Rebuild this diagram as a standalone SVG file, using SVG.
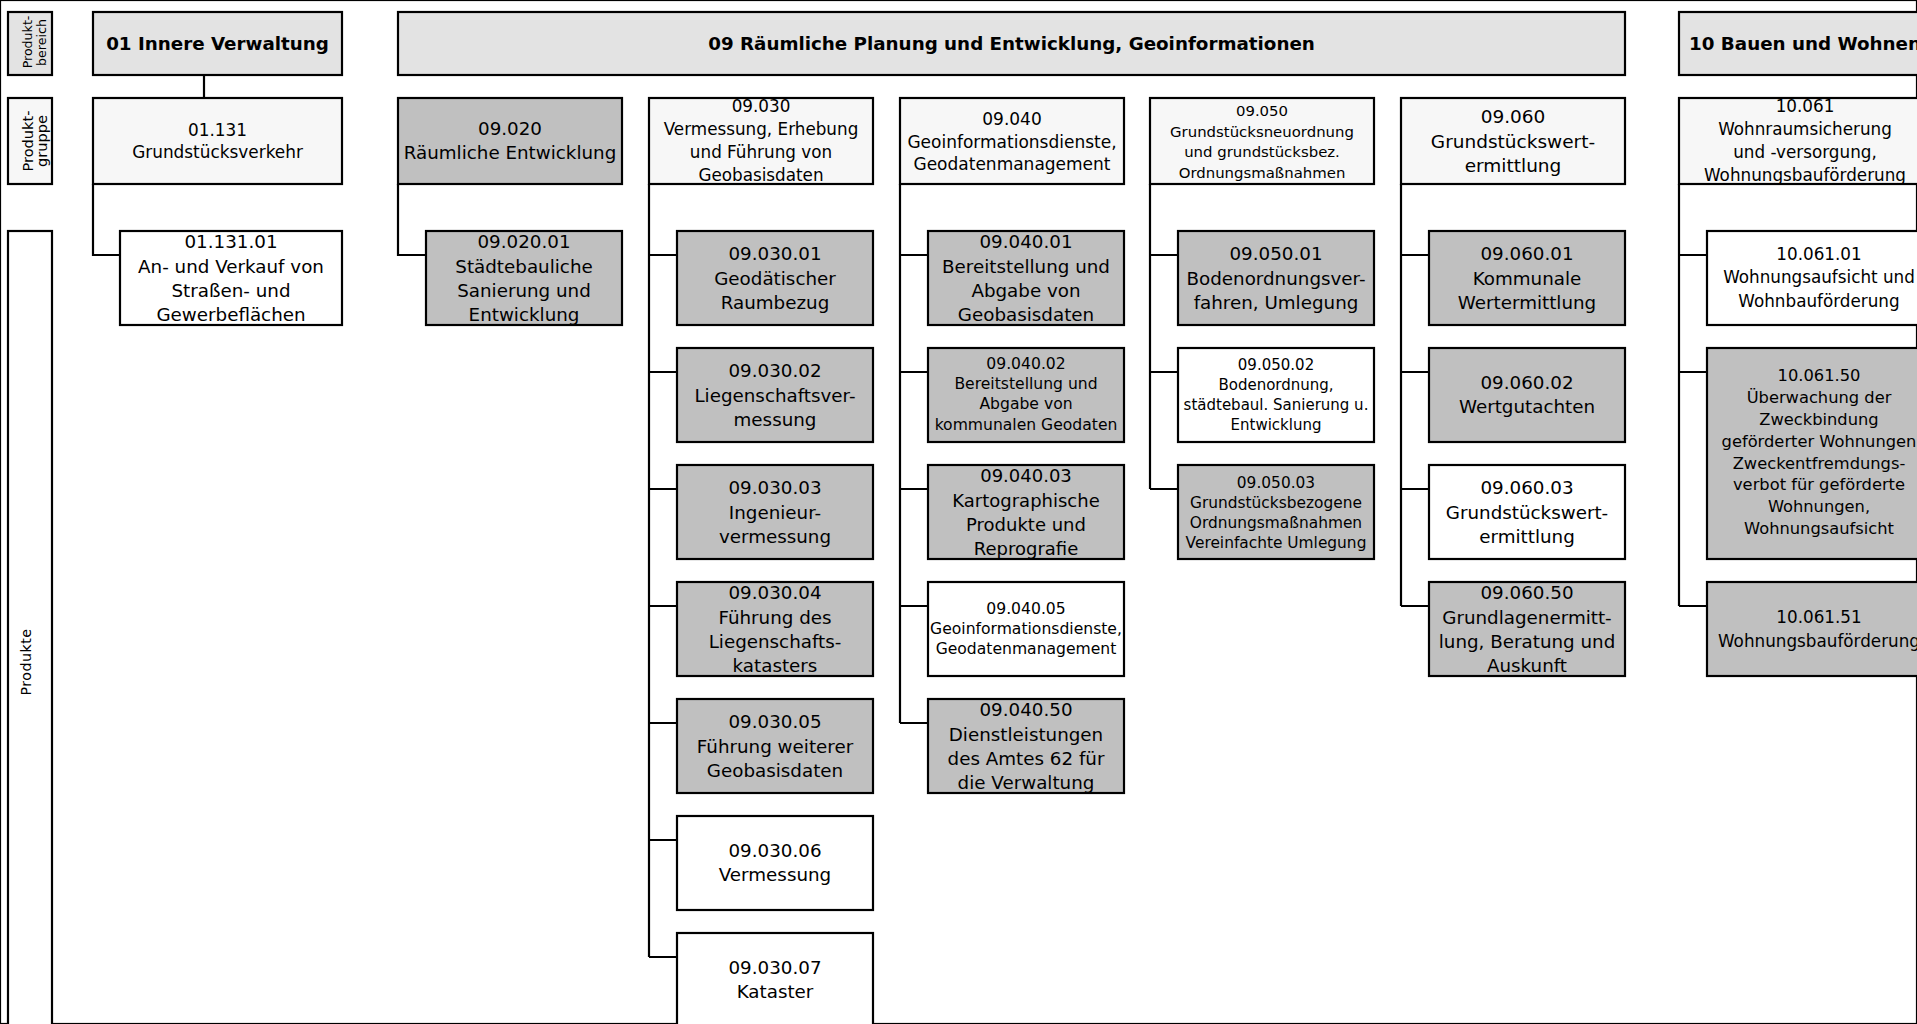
<svg xmlns="http://www.w3.org/2000/svg" width="1917" height="1024" viewBox="0 0 1917 1024" font-size="18.3">
<style>
rect{stroke:#000;stroke-width:2.2}
.hdr{fill:#e3e3e3}
.grp{fill:#f7f7f7}
.g{fill:#c0c0c0}
.w{fill:#fff}
text{font-family:"DejaVu Sans",Verdana,sans-serif;fill:#000;text-anchor:middle}
.b{font-weight:bold}
.conn path{fill:none;stroke:#000;stroke-width:2.2}
</style>
<rect x="0" y="0" width="1917" height="1024" fill="#fff" stroke="none"/>

<g id="label-produktbereich">
<rect class="hdr" x="8" y="12" width="44" height="63"/>
<text font-size="12.6" transform="translate(32,42) rotate(-90)">Produkt-</text>
<text font-size="12.6" transform="translate(45.5,42.5) rotate(-90)">bereich</text>
</g>
<g id="label-produktgruppe">
<rect class="grp" x="8" y="98" width="44" height="86"/>
<text font-size="14.6" transform="translate(32.5,141) rotate(-90)">Produkt-</text>
<text font-size="14.6" transform="translate(47,141) rotate(-90)">gruppe</text>
</g>
<g id="label-produkte">
<rect class="w" x="8" y="231" width="44" height="820"/>
<text font-size="14.2" letter-spacing="0.5" transform="translate(31,662) rotate(-90)">Produkte</text>
</g>

<g class="conn" id="connectors">
<path d="M204,75V98"/>
<path d="M93,184V255H120"/>
<path d="M398,184V255H426"/>
<path d="M649,184V957M649,255H677M649,372H677M649,489H677M649,606H677M649,723H677M649,840H677M649,957H677"/>
<path d="M900,184V723M900,255H928M900,372H928M900,489H928M900,606H928M900,723H928"/>
<path d="M1150,184V489M1150,255H1178M1150,372H1178M1150,489H1178"/>
<path d="M1401,184V606M1401,255H1429M1401,372H1429M1401,489H1429M1401,606H1429"/>
<path d="M1679,184V606M1679,255H1707M1679,372H1707M1679,606H1707"/>
</g>

<g id="h01"><rect class="hdr" x="93" y="12" width="249" height="63"/>
<text class="b" x="217.5" y="50">01 Innere Verwaltung</text></g>
<g id="h09"><rect class="hdr" x="398" y="12" width="1227" height="63"/>
<text class="b" x="1011.5" y="50">09 Räumliche Planung und Entwicklung, Geoinformationen</text></g>
<g id="h10"><rect class="hdr" x="1679" y="12" width="260" height="63"/>
<text class="b" x="1805" y="50">10 Bauen und Wohnen</text></g>

<g id="g01131"><rect class="grp" x="93" y="98" width="249" height="86"/>
<text font-size="16.9"><tspan x="217.5" y="136">01.131</tspan><tspan x="217.5" y="158">Grundstücksverkehr</tspan></text></g>
<g id="g09020"><rect class="g" x="398" y="98" width="224" height="86"/>
<text><tspan x="510" y="135">09.020</tspan><tspan x="510" y="159">Räumliche Entwicklung</tspan></text></g>
<g id="g09030"><rect class="grp" x="649" y="98" width="224" height="86"/>
<text font-size="16.8"><tspan x="761" y="112">09.030</tspan><tspan x="761" y="135">Vermessung, Erhebung</tspan><tspan x="761" y="158">und Führung von</tspan><tspan x="761" y="181">Geobasisdaten</tspan></text></g>
<g id="g09040"><rect class="grp" x="900" y="98" width="224" height="86"/>
<text font-size="17"><tspan x="1012" y="125">09.040</tspan><tspan x="1012" y="147.5">Geoinformationsdienste,</tspan><tspan x="1012" y="170">Geodatenmanagement</tspan></text></g>
<g id="g09050"><rect class="grp" x="1150" y="98" width="224" height="86"/>
<text font-size="14.9"><tspan x="1262" y="116">09.050</tspan><tspan x="1262" y="136.5">Grundstücksneuordnung</tspan><tspan x="1262" y="157">und grundstücksbez.</tspan><tspan x="1262" y="177.5">Ordnungsmaßnahmen</tspan></text></g>
<g id="g09060"><rect class="grp" x="1401" y="98" width="224" height="86"/>
<text font-size="18.5"><tspan x="1513" y="123">09.060</tspan><tspan x="1513" y="148">Grundstückswert-</tspan><tspan x="1513" y="172">ermittlung</tspan></text></g>
<g id="g10061"><rect class="grp" x="1679" y="98" width="260" height="86"/>
<text font-size="16.8"><tspan x="1805" y="112">10.061</tspan><tspan x="1805" y="135">Wohnraumsicherung</tspan><tspan x="1805" y="158">und -versorgung,</tspan><tspan x="1805" y="181">Wohnungsbauförderung</tspan></text></g>

<g id="p0113101"><rect class="w" x="120" y="231" width="222" height="94"/>
<text><tspan x="231" y="248">01.131.01</tspan><tspan x="231" y="272.5">An- und Verkauf von</tspan><tspan x="231" y="297">Straßen- und</tspan><tspan x="231" y="321">Gewerbeflächen</tspan></text></g>
<g id="p0902001"><rect class="g" x="426" y="231" width="196" height="94"/>
<text><tspan x="524" y="248">09.020.01</tspan><tspan x="524" y="272.5">Städtebauliche</tspan><tspan x="524" y="297">Sanierung und</tspan><tspan x="524" y="321">Entwicklung</tspan></text></g>

<g id="p0903001"><rect class="g" x="677" y="231" width="196" height="94"/>
<text><tspan x="775" y="260">09.030.01</tspan><tspan x="775" y="284.5">Geodätischer</tspan><tspan x="775" y="309">Raumbezug</tspan></text></g>
<g id="p0903002"><rect class="g" x="677" y="348" width="196" height="94"/>
<text><tspan x="775" y="377">09.030.02</tspan><tspan x="775" y="401.5">Liegenschaftsver-</tspan><tspan x="775" y="426">messung</tspan></text></g>
<g id="p0903003"><rect class="g" x="677" y="465" width="196" height="94"/>
<text><tspan x="775" y="494">09.030.03</tspan><tspan x="775" y="518.5">Ingenieur-</tspan><tspan x="775" y="543">vermessung</tspan></text></g>
<g id="p0903004"><rect class="g" x="677" y="582" width="196" height="94"/>
<text><tspan x="775" y="599">09.030.04</tspan><tspan x="775" y="623.5">Führung des</tspan><tspan x="775" y="648">Liegenschafts-</tspan><tspan x="775" y="672">katasters</tspan></text></g>
<g id="p0903005"><rect class="g" x="677" y="699" width="196" height="94"/>
<text><tspan x="775" y="728">09.030.05</tspan><tspan x="775" y="752.5">Führung weiterer</tspan><tspan x="775" y="777">Geobasisdaten</tspan></text></g>
<g id="p0903006"><rect class="w" x="677" y="816" width="196" height="94"/>
<text><tspan x="775" y="857">09.030.06</tspan><tspan x="775" y="881">Vermessung</tspan></text></g>
<g id="p0903007"><rect class="w" x="677" y="933" width="196" height="94"/>
<text><tspan x="775" y="974">09.030.07</tspan><tspan x="775" y="998">Kataster</tspan></text></g>

<g id="p0904001"><rect class="g" x="928" y="231" width="196" height="94"/>
<text><tspan x="1026" y="248">09.040.01</tspan><tspan x="1026" y="272.5">Bereitstellung und</tspan><tspan x="1026" y="297">Abgabe von</tspan><tspan x="1026" y="321">Geobasisdaten</tspan></text></g>
<g id="p0904002"><rect class="g" x="928" y="348" width="196" height="94"/>
<text font-size="15.6"><tspan x="1026" y="369">09.040.02</tspan><tspan x="1026" y="389">Bereitstellung und</tspan><tspan x="1026" y="409">Abgabe von</tspan><tspan x="1026" y="430">kommunalen Geodaten</tspan></text></g>
<g id="p0904003"><rect class="g" x="928" y="465" width="196" height="94"/>
<text font-size="18"><tspan x="1026" y="482">09.040.03</tspan><tspan x="1026" y="506.5">Kartographische</tspan><tspan x="1026" y="531">Produkte und</tspan><tspan x="1026" y="555">Reprografie</tspan></text></g>
<g id="p0904005"><rect class="w" x="928" y="582" width="196" height="94"/>
<text font-size="15.6"><tspan x="1026" y="614">09.040.05</tspan><tspan x="1026" y="634">Geoinformationsdienste,</tspan><tspan x="1026" y="654">Geodatenmanagement</tspan></text></g>
<g id="p0904050"><rect class="g" x="928" y="699" width="196" height="94"/>
<text><tspan x="1026" y="716">09.040.50</tspan><tspan x="1026" y="740.5">Dienstleistungen</tspan><tspan x="1026" y="765">des Amtes 62 für</tspan><tspan x="1026" y="789">die Verwaltung</tspan></text></g>

<g id="p0905001"><rect class="g" x="1178" y="231" width="196" height="94"/>
<text><tspan x="1276" y="260">09.050.01</tspan><tspan x="1276" y="284.5">Bodenordnungsver-</tspan><tspan x="1276" y="309">fahren, Umlegung</tspan></text></g>
<g id="p0905002"><rect class="w" x="1178" y="348" width="196" height="94"/>
<text font-size="15"><tspan x="1276" y="370">09.050.02</tspan><tspan x="1276" y="390">Bodenordnung,</tspan><tspan x="1276" y="410">städtebaul. Sanierung u.</tspan><tspan x="1276" y="430">Entwicklung</tspan></text></g>
<g id="p0905003"><rect class="g" x="1178" y="465" width="196" height="94"/>
<text font-size="15.4"><tspan x="1276" y="488">09.050.03</tspan><tspan x="1276" y="508">Grundstücksbezogene</tspan><tspan x="1276" y="528">Ordnungsmaßnahmen</tspan><tspan x="1276" y="548">Vereinfachte Umlegung</tspan></text></g>

<g id="p0906001"><rect class="g" x="1429" y="231" width="196" height="94"/>
<text><tspan x="1527" y="260">09.060.01</tspan><tspan x="1527" y="284.5">Kommunale</tspan><tspan x="1527" y="309">Wertermittlung</tspan></text></g>
<g id="p0906002"><rect class="g" x="1429" y="348" width="196" height="94"/>
<text><tspan x="1527" y="389">09.060.02</tspan><tspan x="1527" y="413">Wertgutachten</tspan></text></g>
<g id="p0906003"><rect class="w" x="1429" y="465" width="196" height="94"/>
<text><tspan x="1527" y="494">09.060.03</tspan><tspan x="1527" y="518.5">Grundstückswert-</tspan><tspan x="1527" y="543">ermittlung</tspan></text></g>
<g id="p0906050"><rect class="g" x="1429" y="582" width="196" height="94"/>
<text><tspan x="1527" y="599">09.060.50</tspan><tspan x="1527" y="623.5">Grundlagenermitt-</tspan><tspan x="1527" y="648">lung, Beratung und</tspan><tspan x="1527" y="672">Auskunft</tspan></text></g>

<g id="p1006101"><rect class="w" x="1707" y="231" width="232" height="94"/>
<text font-size="16.8"><tspan x="1819" y="260">10.061.01</tspan><tspan x="1819" y="283">Wohnungsaufsicht und</tspan><tspan x="1819" y="307">Wohnbauförderung</tspan></text></g>
<g id="p1006150"><rect class="g" x="1707" y="348" width="232" height="211"/>
<text font-size="16.3"><tspan x="1819" y="381">10.061.50</tspan><tspan x="1819" y="403">Überwachung der</tspan><tspan x="1819" y="425">Zweckbindung</tspan><tspan x="1819" y="447">geförderter Wohnungen</tspan><tspan x="1819" y="468.5">Zweckentfremdungs-</tspan><tspan x="1819" y="490">verbot für geförderte</tspan><tspan x="1819" y="512">Wohnungen,</tspan><tspan x="1819" y="533.5">Wohnungsaufsicht</tspan></text></g>
<g id="p1006151"><rect class="g" x="1707" y="582" width="232" height="94"/>
<text font-size="16.8"><tspan x="1819" y="623">10.061.51</tspan><tspan x="1819" y="647">Wohnungsbauförderung</tspan></text></g>
</svg>
